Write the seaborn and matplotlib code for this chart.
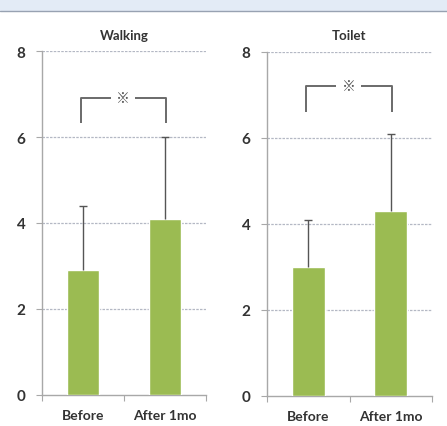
import matplotlib
matplotlib.use("Agg")
import matplotlib.pyplot as plt
import seaborn as sns
import pandas as pd
from matplotlib.patches import Rectangle
from matplotlib.lines import Line2D

sns.set_theme(style="white")
plt.rcParams["font.family"] = ["Lato", "Noto Sans CJK JP", "DejaVu Sans"]

# Mean scores and standard deviations before / one month after
categories = ["Before", "After 1mo"]
walking_mean = [2.9, 4.1]
walking_sd = [1.5, 1.9]
toilet_mean = [3.0, 4.3]
toilet_sd = [1.1, 1.8]
panel_titles = ["Walking", "Toilet"]
y_ticks = [0, 2, 4, 6, 8]
sig_mark = "※"
# bracket heights (bottom, top) for each panel
bracket_levels = [(6.33, 6.9), (6.6, 7.2)]

BAR_COLOR = "#9bbb52"
GRID_COLOR = "#b4b8c4"
AXIS_COLOR = "#a8a8a8"
TEXT_COLOR = "#333333"

fig = plt.figure(figsize=(4.47, 4.27), dpi=100)
fig.patch.set_facecolor("white")

# light window header strip along the top
fig.patches.append(Rectangle((0, 1 - 12 / 427), 1, 12 / 427, transform=fig.transFigure,
                             facecolor="#e3ebf6", edgecolor="none", zorder=0))
fig.lines.append(Line2D([0, 1], [1 - 12 / 427, 1 - 12 / 427], transform=fig.transFigure,
                        color="#98a2b2", lw=1.0))

axes_rects = [
    [42 / 447, 31 / 427, 164 / 447, 344 / 427],
    [267 / 447, 30 / 427, 165 / 447, 344 / 427],
]
series = [(walking_mean, walking_sd), (toilet_mean, toilet_sd)]

for rect, title, (means, sds), (b_lo, b_hi) in zip(axes_rects, panel_titles, series, bracket_levels):
    ax = fig.add_axes(rect)
    df = pd.DataFrame({"group": categories, "score": means})
    sns.barplot(data=df, x="group", y="score", color=BAR_COLOR, width=0.4,
                saturation=1, errorbar=None, ax=ax, zorder=3)
    # upper-only standard deviation whiskers
    eb = ax.errorbar(range(len(categories)), means, yerr=[[0] * len(sds), sds],
                     fmt="none", ecolor="#555555", elinewidth=1.0, capsize=3, capthick=1.0, zorder=4)
    eb[1][0].set_visible(False)  # no cap at the bar top

    ax.set_ylim(0, 8)
    ax.set_xlim(-0.5, 1.5)
    ax.set_yticks(y_ticks)
    ax.set_xlabel("")
    ax.set_ylabel("")
    ax.set_title(title, fontsize=9.5, fontweight="bold", color=TEXT_COLOR, pad=9)

    for y in y_ticks[1:]:
        ax.axhline(y, color=GRID_COLOR, lw=0.9, ls=(0, (2, 1)), zorder=1)

    for side in ["top", "right"]:
        ax.spines[side].set_visible(False)
    ax.spines["left"].set_color(AXIS_COLOR)
    ax.spines["bottom"].set_color(AXIS_COLOR)
    ax.spines["left"].set_linewidth(1.0)
    ax.spines["bottom"].set_linewidth(1.0)

    ax.tick_params(axis="y", length=4, width=0.8, color=AXIS_COLOR, labelsize=11,
                   labelcolor=TEXT_COLOR, pad=8, left=True)
    ax.tick_params(axis="x", length=0, labelsize=10, labelcolor=TEXT_COLOR, pad=10)
    for lbl in ax.get_yticklabels() + ax.get_xticklabels():
        lbl.set_fontweight("bold")
    # category boundary ticks below the baseline
    ax.set_xticks([-0.5, 0.5, 1.5], minor=True)
    ax.tick_params(axis="x", which="minor", length=4, width=0.8, color=AXIS_COLOR, bottom=True)

    # significance bracket
    xl, xr = -0.03, 1.01
    gap = 0.15
    mid = (xl + xr) / 2
    bk = dict(color="#6a6a6a", lw=1.4, solid_capstyle="butt", zorder=5)
    ax.plot([xl, xl, mid - gap], [b_lo, b_hi, b_hi], **bk)
    ax.plot([mid + gap, xr, xr], [b_hi, b_hi, b_lo], **bk)
    ax.text(mid, b_hi, sig_mark, ha="center", va="center", fontsize=10,
            color="#555555", zorder=6, family=["Noto Sans CJK JP", "DejaVu Sans"])

fig.savefig("out.png", dpi=100)
